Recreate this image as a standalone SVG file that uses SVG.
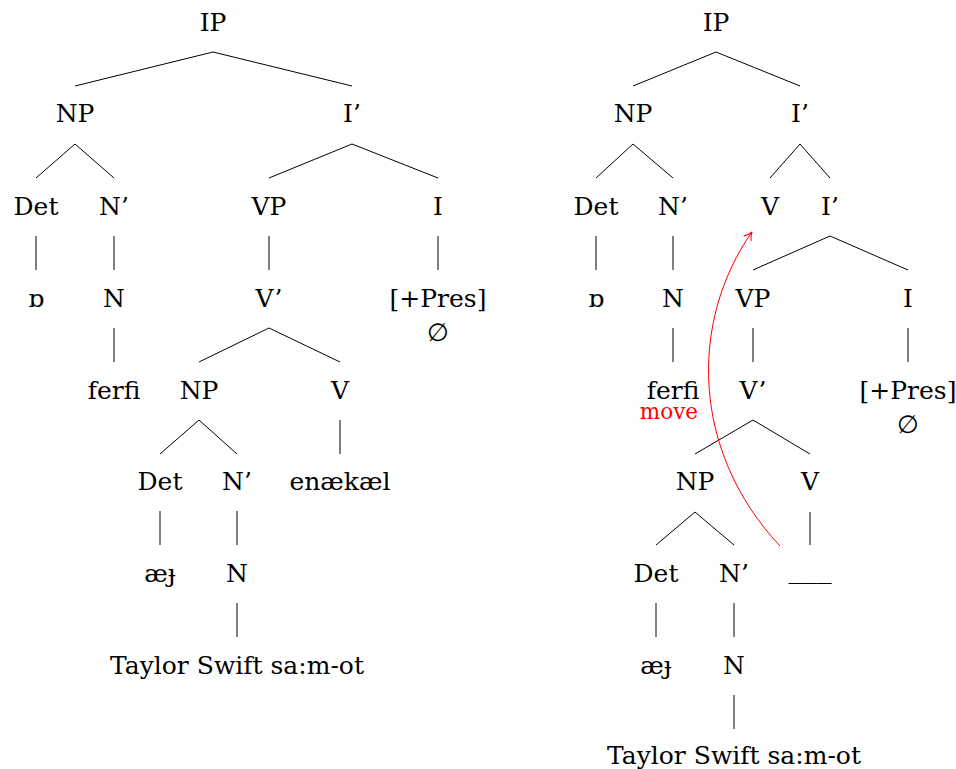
<svg xmlns="http://www.w3.org/2000/svg" width="956" height="769" viewBox="0 0 956 769">
<defs>
<style>
text{font-family:"DejaVu Serif","Liberation Serif",serif;font-size:25px;text-anchor:middle;fill:#000}
.c line{stroke:#000;stroke-width:1}
.mv{fill:#ff0000;font-size:21.5px;text-anchor:end}
</style>
<marker id="ah" viewBox="0 0 12 12" refX="10" refY="6" markerWidth="12" markerHeight="12" markerUnits="userSpaceOnUse" orient="auto">
<path d="M2,1.5 Q6,5 10,6 Q6,7 2,10.5" fill="none" stroke="#ff0000" stroke-width="1"/>
</marker>
</defs>
<rect width="956" height="769" fill="#fff"/>
<g class="c" id="connectors">
<line x1="213" y1="52" x2="75" y2="86"/><line x1="213" y1="52" x2="352" y2="86"/>
<line x1="75" y1="144" x2="36" y2="178"/><line x1="75" y1="144" x2="114" y2="178"/>
<line x1="36" y1="236" x2="36" y2="270"/><line x1="114" y1="236" x2="114" y2="270"/>
<line x1="114" y1="328" x2="114" y2="362"/>
<line x1="352" y1="144" x2="269" y2="178"/><line x1="352" y1="144" x2="438" y2="178"/>
<line x1="269" y1="236" x2="269" y2="270"/><line x1="438" y1="236" x2="438" y2="270"/>
<line x1="269" y1="328" x2="199" y2="362"/><line x1="269" y1="328" x2="340" y2="362"/>
<line x1="199" y1="420" x2="160" y2="454"/><line x1="199" y1="420" x2="237" y2="454"/>
<line x1="340" y1="420" x2="340" y2="454"/>
<line x1="160" y1="511" x2="160" y2="545"/><line x1="237" y1="511" x2="237" y2="545"/>
<line x1="237" y1="603" x2="237" y2="637"/>
<line x1="716" y1="52" x2="633" y2="86"/><line x1="716" y1="52" x2="800" y2="86"/>
<line x1="633" y1="144" x2="596" y2="178"/><line x1="633" y1="144" x2="673" y2="178"/>
<line x1="800" y1="144" x2="770" y2="178"/><line x1="800" y1="144" x2="830" y2="178"/>
<line x1="596" y1="236" x2="596" y2="270"/><line x1="673" y1="236" x2="673" y2="270"/>
<line x1="830" y1="236" x2="753" y2="270"/><line x1="830" y1="236" x2="908" y2="270"/>
<line x1="673" y1="328" x2="673" y2="362"/><line x1="753" y1="328" x2="753" y2="362"/><line x1="908" y1="328" x2="908" y2="362"/>
<line x1="753" y1="420" x2="695" y2="454"/><line x1="753" y1="420" x2="810" y2="454"/>
<line x1="695" y1="512" x2="656" y2="545"/><line x1="695" y1="512" x2="734" y2="545"/>
<line x1="810" y1="512" x2="810" y2="545"/>
<line x1="656" y1="603" x2="656" y2="637"/><line x1="734" y1="603" x2="734" y2="637"/>
<line x1="734" y1="695" x2="734" y2="729"/>
<path d="M780,546 C690,450 690,320 752,232" fill="none" stroke="#ff0000" stroke-width="1" marker-end="url(#ah)"/>
</g>
<g id="L-IP"><text x="213" y="30.5">IP</text></g>
<g id="L-NP"><text x="75" y="121.5">NP</text></g>
<g id="L-I1"><text x="352" y="121.5">I’</text></g>
<g id="L-Det"><text x="36" y="214.5">Det</text></g>
<g id="L-N1"><text x="114" y="214.5">N’</text></g>
<g id="L-VP"><text x="269" y="214.5">VP</text></g>
<g id="L-I"><text x="438" y="214.5">I</text></g>
<g id="L-o"><text x="36" y="306.5">ɒ</text></g>
<g id="L-N"><text x="114" y="306.5">N</text></g>
<g id="L-V1"><text x="269" y="306.5">V’</text></g>
<g id="L-Pres"><text x="438" y="306.5">[+Pres]</text><text x="438" y="340.5">∅</text></g>
<g id="L-ferfi"><text x="114" y="398.5">ferfi</text></g>
<g id="L-NP2"><text x="199" y="398.5">NP</text></g>
<g id="L-V"><text x="340" y="398.5">V</text></g>
<g id="L-Det2"><text x="160" y="489.5">Det</text></g>
<g id="L-N12"><text x="237" y="489.5">N’</text></g>
<g id="L-enaekael"><text x="340" y="489.5">enækæl</text></g>
<g id="L-aej"><text x="160" y="581.5">æɟ</text></g>
<g id="L-N2"><text x="237" y="581.5">N</text></g>
<g id="L-TS"><text x="237" y="673.5">Taylor Swift sa:m-ot</text></g>
<g id="R-IP"><text x="716" y="30.5">IP</text></g>
<g id="R-NP"><text x="633" y="121.5">NP</text></g>
<g id="R-I1"><text x="800" y="121.5">I’</text></g>
<g id="R-Det"><text x="596" y="214.5">Det</text></g>
<g id="R-N1"><text x="673" y="214.5">N’</text></g>
<g id="R-V"><text x="770" y="214.5">V</text></g>
<g id="R-I1b"><text x="830" y="214.5">I’</text></g>
<g id="R-o"><text x="596" y="306.5">ɒ</text></g>
<g id="R-N"><text x="673" y="306.5">N</text></g>
<g id="R-VP"><text x="753" y="306.5">VP</text></g>
<g id="R-I"><text x="908" y="306.5">I</text></g>
<g id="R-ferfi"><text x="673" y="398.5">ferfi</text><text class="mv" x="698" y="419">move</text></g>
<g id="R-V1"><text x="753" y="398.5">V’</text></g>
<g id="R-Pres"><text x="908" y="398.5">[+Pres]</text><text x="908" y="432.5">∅</text></g>
<g id="R-NP2"><text x="695" y="489.5">NP</text></g>
<g id="R-V2"><text x="810" y="489.5">V</text></g>
<g id="R-Det2"><text x="656" y="581.5">Det</text></g>
<g id="R-N12"><text x="734" y="581.5">N’</text></g>
<g id="R-gap"><text x="810" y="578" textLength="43" lengthAdjust="spacingAndGlyphs">___</text></g>
<g id="R-aej"><text x="656" y="673.5">æɟ</text></g>
<g id="R-N2"><text x="734" y="673.5">N</text></g>
<g id="R-TS"><text x="734" y="763.5">Taylor Swift sa:m-ot</text></g>
</svg>
